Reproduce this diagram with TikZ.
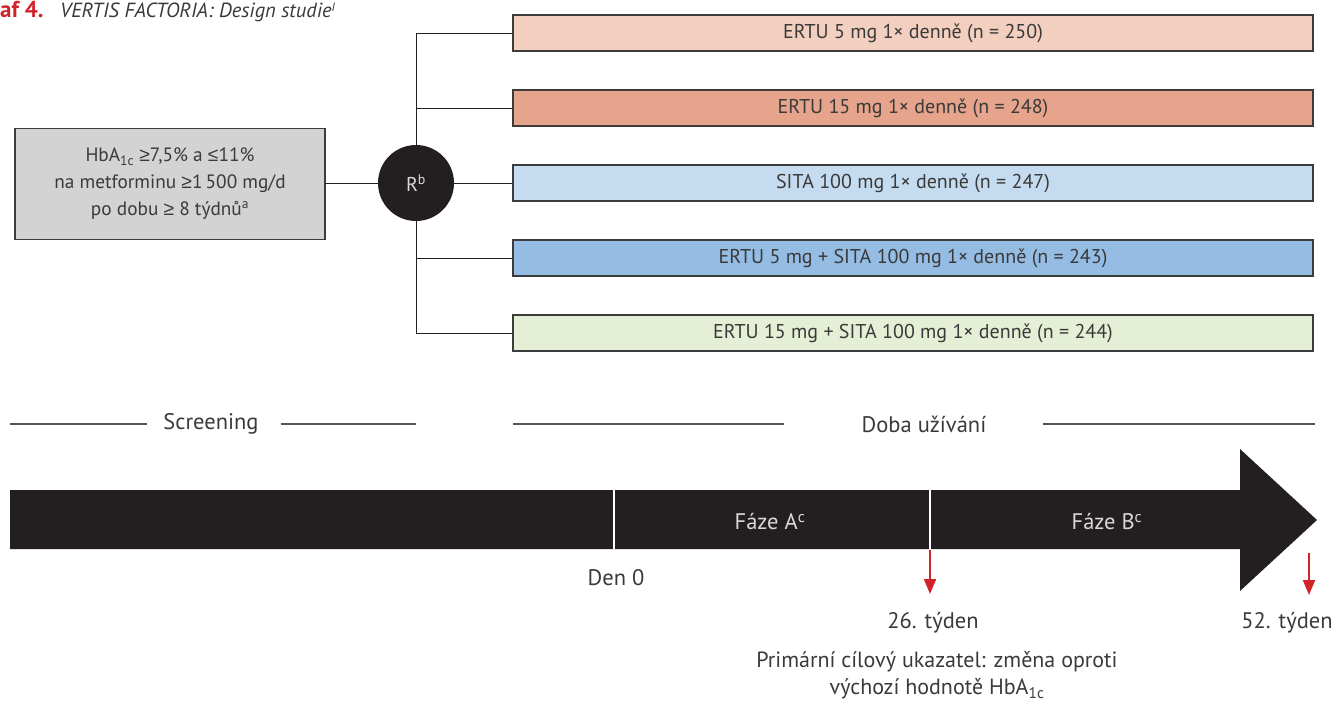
\documentclass[tikz,border=0pt]{standalone}
\usepackage{fontspec}
\setmainfont{PT Sans}
\newfontfamily\symf{Liberation Sans}
\newcommand\gesym{{\symf ≥}}
\newcommand\lesym{{\symf ≤}}
\usetikzlibrary{arrows.meta}
\definecolor{ink}{HTML}{231F20}
\definecolor{txt}{HTML}{3A3A3A}
\definecolor{boxgray}{HTML}{D3D3D3}
\definecolor{edge}{HTML}{3C3C3C}
\definecolor{rd}{HTML}{D2232A}
\definecolor{cA}{HTML}{F3CFC0}
\definecolor{cB}{HTML}{E5A48B}
\definecolor{cC}{HTML}{C5DBEF}
\definecolor{cD}{HTML}{95BCE3}
\definecolor{cE}{HTML}{E5EFD5}
\definecolor{ln}{HTML}{555555}
\begin{document}
\begin{tikzpicture}[x=1pt,y=-1pt,
  arm/.style={draw=edge, line width=1.6pt, minimum width=800pt, minimum height=36pt, inner sep=0pt, font=\fontsize{20}{24}\selectfont, text=txt},
  conn/.style={draw=ink, line width=1pt},
  sep/.style={draw=ln, line width=1.4pt},
  lab/.style={font=\fontsize{22.5}{27}\selectfont, text=txt, inner sep=0pt},
  redarr/.style={draw=rd, line width=2pt, -{Triangle[length=15pt,width=12pt]}}]
\useasboundingbox (0,0) rectangle (1339,704);
% title
\node[anchor=base west, inner sep=0, font=\fontsize{23}{24}\selectfont\bfseries, text=rd] (tnum) at (0,17) {af 4.};
\node[anchor=base west, inner sep=0, font=\fontsize{20.5}{24}\selectfont\itshape, text=txt] (ttl) at (60,17) {VERTIS FACTORIA: Design studie\raisebox{0.5ex}{\fontsize{12}{12}\selectfont I}};
% left box
\node[draw=edge, fill=boxgray, line width=1.3pt, minimum width=310pt, minimum height=111pt, inner sep=0pt, align=center, text=txt, font=\fontsize{19.3}{27}\selectfont] (crit) at (170,184)
 {HbA\textsubscript{1c} \gesym7,5\% a \lesym11\%\\na metforminu \gesym1\,500 mg/d\\po dobu \gesym{} 8 týdnů\textsuperscript{a}};
% randomisation circle
\node[circle, fill=ink, minimum size=76pt, inner sep=0pt, text=white!85!black, font=\fontsize{20}{22}\selectfont] (R) at (416,183) {R\textsuperscript{b}};
% arms
\node[arm, fill=cA] (a1) at (913,33) {ERTU 5 mg 1× denně (n = 250)};
\node[arm, fill=cB] (a2) at (913,108) {ERTU 15 mg 1× denně (n = 248)};
\node[arm, fill=cC] (a3) at (913,183) {SITA 100 mg 1× denně (n = 247)};
\node[arm, fill=cD] (a4) at (913,258) {ERTU 5 mg + SITA 100 mg 1× denně (n = 243)};
\node[arm, fill=cE] (a5) at (913,333) {ERTU 15 mg + SITA 100 mg 1× denně (n = 244)};
% connectors
\draw[conn] (crit.east |- R.west) -- (R.west);
\draw[conn] (R.east) -- (a3.west);
\draw[conn] (a1.west) -| (R.north);
\draw[conn] (a5.west) -| (R.south);
\draw[conn] (a2.west) -- (a2.west -| R.center);
\draw[conn] (a4.west) -- (a4.west -| R.center);
% phase labels with lines
\node[lab] (scr) at (211,424) {Screening};
\node[lab] (doba) at (924,424) {Doba užívání};
\coordinate (s1) at (10,424);
\coordinate (s2) at (416,424);
\coordinate (d1) at (513,424);
\coordinate (d2) at (1315,424);
\draw[sep] (s1) -- ([xshift=-16pt]scr.west);
\draw[sep] ([xshift=22pt]scr.east) -- (s2);
\draw[sep] (d1) -- ([xshift=-77pt]doba.west);
\draw[sep] ([xshift=56pt]doba.east) -- (d2);
% big arrow
\fill[ink] (10,490) -- (1240,490) -- (1240,449) -- (1317,520) -- (1240,591) -- (1240,549) -- (10,549) -- cycle;
\draw[white, line width=2.5pt] (614,490) -- (614,549);
\draw[white, line width=2.5pt] (930,490) -- (930,549);
\node[lab, text=white!85!black] (fA) at (770,522) {Fáze A\textsuperscript{c}};
\node[lab, text=white!85!black] (fB) at (1107,522) {Fáze B\textsuperscript{c}};
% timepoints
\node[lab] (den0) at (616,578) {Den 0};
\coordinate (r1s) at (930,550);
\coordinate (r2s) at (1309,553);
\coordinate (r1e) at (930,594);
\coordinate (r2e) at (1309,595);
\node[lab] (w26) at (933,623) {26. týden};
\node[lab] (w52) at (1287,623) {52. týden};
\draw[redarr] (r1s) -- (r1e);
\draw[redarr] (r2s) -- (r2e);
\node[lab, align=center, font=\fontsize{22}{27}\selectfont] (prim) at (937,675) {Primární cílový ukazatel: změna oproti\\výchozí hodnotě HbA\textsubscript{1c}};
\end{tikzpicture}
\end{document}
